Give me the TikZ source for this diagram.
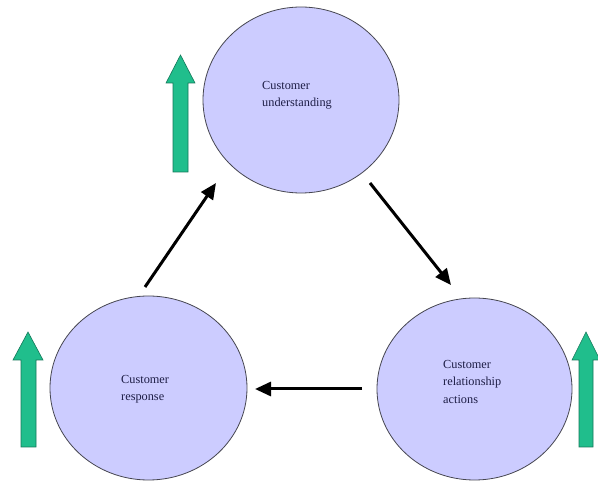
\documentclass[tikz,border=0pt]{standalone}
\usepackage{fontspec}
\setmainfont{Liberation Serif}
\usetikzlibrary{shapes.geometric,arrows.meta}
\definecolor{circfill}{RGB}{204,204,255}
\definecolor{circline}{RGB}{70,70,80}
\definecolor{txtcol}{RGB}{30,30,70}
\definecolor{grnfill}{RGB}{32,190,140}
\definecolor{grnline}{RGB}{20,120,90}
\tikzset{
  blob/.style={ellipse, draw=circline, line width=0.8pt, fill=circfill, minimum width=196pt, minimum height=186pt, inner sep=0pt},
  lbl/.style={anchor=north west, align=left, text=txtcol, inner sep=0pt, font=\fontsize{12.3}{17.5}\selectfont},
  flow/.style={line width=3pt, -{Triangle[length=16pt,width=14pt]}},
  uparrow/.style={fill=grnfill, draw=grnline, line width=0.6pt}
}
\begin{document}
\begin{tikzpicture}[x=1pt,y=-1pt]
\useasboundingbox (0,0) rectangle (598,481);
\fill[white] (0,0) rectangle (598,481);
% circles
\node[blob] (cu) at (301,100) {};
\node[blob, minimum width=197pt, minimum height=184pt] (cr) at (148.5,388) {};
\node[blob, minimum width=195pt, minimum height=182pt] (ca) at (474.5,389) {};
% labels
\node[lbl] (tcu) at (262,81) {Customer\\understanding};
\node[lbl] (tcr) at (121,375) {Customer\\response};
\node[lbl] (tca) at (443,360) {Customer\\relationship\\actions};
% connector end points
\coordinate (a1s) at (145,287);
\coordinate (a1e) at (216,183);
\coordinate (a2s) at (370,183);
\coordinate (a2e) at (451,285);
\coordinate (a3s) at (362,389);
\coordinate (a3e) at (255,389);
\draw[flow] (a1s) -- (a1e);
\draw[flow] (a2s) -- (a2e);
\draw[flow] (a3s) -- (a3e);
% green up arrows
\draw[uparrow] (173,172) -- (173,83) -- (166,83) -- (180.5,55) -- (195,83) -- (188,83) -- (188,172) -- cycle;
\draw[uparrow] (21,447) -- (21,360) -- (13,360) -- (28,332) -- (43,360) -- (36,360) -- (36,447) -- cycle;
\draw[uparrow] (579,447) -- (579,360) -- (572,360) -- (586,332) -- (600,360) -- (593,360) -- (593,447) -- cycle;
\end{tikzpicture}
\end{document}
